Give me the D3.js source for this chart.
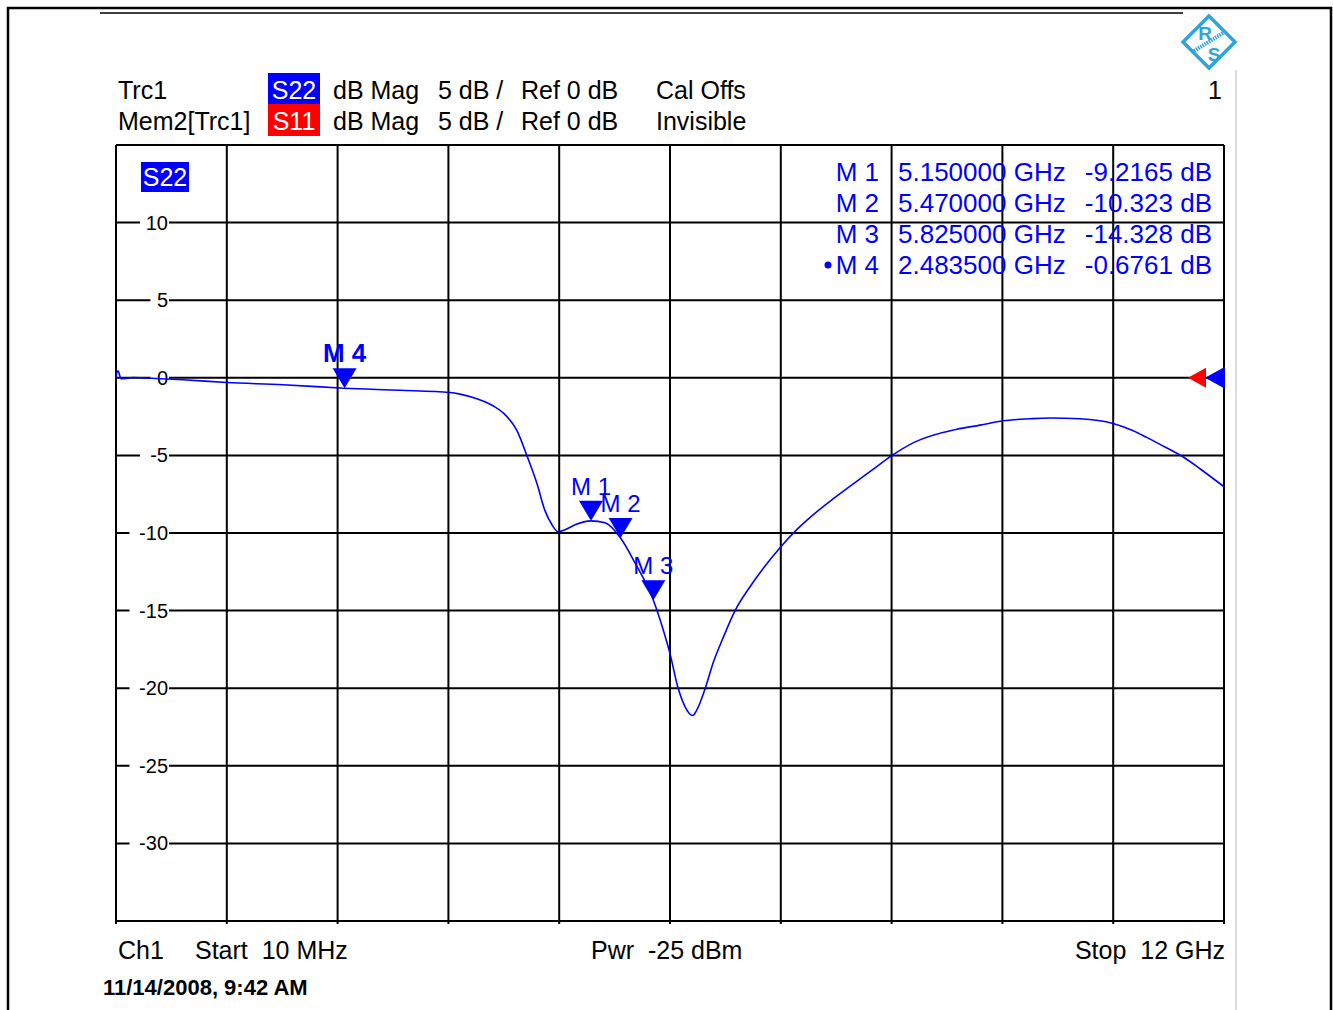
<!DOCTYPE html>
<html>
<head>
<meta charset="utf-8">
<script src="https://cdn.jsdelivr.net/npm/d3@7"></script>
<style>
  body { margin: 0; background: #fff; }
  svg text { font-family: "Liberation Sans", Arial, sans-serif; white-space: pre; }
</style>
</head>
<body>
<svg id="chart" width="1333" height="1010"></svg>
<script>
// S22 trace (frequency in GHz, magnitude in dB)
const freqGHz = [0.01, 0.032, 0.064, 0.194, 0.486, 0.735, 1.211, 1.817, 2.434, 2.4835, 3.083, 3.624, 3.732, 3.916,
    4.090, 4.198, 4.349, 4.457, 4.566, 4.652, 4.728, 4.793, 4.869, 4.977, 5.15, 5.302, 5.47, 5.626, 5.825,
    5.918, 6.005, 6.091, 6.167, 6.250, 6.297, 6.384, 6.474, 6.582, 6.709, 6.871, 7.015, 7.214, 7.339, 7.556,
    7.772, 7.988, 8.205, 8.404, 8.646, 9.110, 9.360, 9.609, 9.901, 10.117, 10.442, 10.799, 11.018, 11.163,
    11.308, 11.556, 11.740, 12.0];
const s22dB = [0.06, 0.45, -0.06, 0.02, -0.06, -0.13, -0.30, -0.45, -0.66, -0.676, -0.80, -0.95, -1.05, -1.35,
    -1.80, -2.25, -3.41, -5.02, -6.83, -8.56, -9.47, -9.92, -9.79, -9.47, -9.2165, -9.34, -10.323, -11.92, -14.328,
    -15.97, -17.77, -19.96, -21.18, -21.76, -21.38, -20.05, -18.33, -16.72, -15.00, -13.46, -12.27, -10.82, -10.01, -8.82,
    -7.79, -6.83, -5.89, -5.02, -4.16, -3.31, -3.05, -2.77, -2.64, -2.59, -2.64, -2.94, -3.41, -3.84,
    -4.29, -5.09, -5.86, -7.02];

// markers
const markerNames = ["M 1", "M 2", "M 3", "M 4"];
const markerFreq = [5.15, 5.47, 5.825, 2.4835];
const markerDb = [-9.2165, -10.323, -14.328, -0.6761];
const markerFreqText = ["5.150000 GHz", "5.470000 GHz", "5.825000 GHz", "2.483500 GHz"];
const markerDbText = ["-9.2165 dB", "-10.323 dB", "-14.328 dB", "-0.6761 dB"];

// axes
const yTicks = [10, 5, 0, -5, -10, -15, -20, -25, -30];
const yDomain = [-35, 15];
const xDomain = [0.01, 12];
const xDivisions = 10;

const svg = d3.select("#chart");
const blue = "#0000ff";
const red = "#ff0000";

const x = d3.scaleLinear().domain(xDomain).range([116, 1224]);
const y = d3.scaleLinear().domain(yDomain).range([921, 145]);

// page frame
svg.append("path")
    .attr("d", "M8,1012 V8 H1331 V1012")
    .attr("fill", "none").attr("stroke", "#000").attr("stroke-width", 2.5);
svg.append("line").attr("x1", 100).attr("x2", 1183).attr("y1", 13).attr("y2", 13)
    .attr("stroke", "#000").attr("stroke-width", 1.5);
svg.append("line").attr("x1", 1236).attr("x2", 1236).attr("y1", 70).attr("y2", 1010)
    .attr("stroke", "#bbb").attr("stroke-width", 1);

// R&S logo
const logo = svg.append("g").attr("transform", "translate(1209,42)");
logo.append("path").attr("d", "M0,-26 L26,0 L0,26 L-26,0 Z")
    .attr("fill", "none").attr("stroke", "#2ea3dd").attr("stroke-width", 3.5);
logo.append("text").attr("x", -4).attr("y", -2).attr("text-anchor", "middle")
    .attr("font-size", 19).attr("font-weight", "bold").attr("fill", "#2ea3dd").text("R");
logo.append("text").attr("x", 5).attr("y", 19).attr("text-anchor", "middle")
    .attr("font-size", 19).attr("font-weight", "bold").attr("fill", "#2ea3dd").text("S");
logo.append("line").attr("x1", -15).attr("y1", 9).attr("x2", 14).attr("y2", -9)
    .attr("stroke", "#2ea3dd").attr("stroke-width", 4).attr("stroke-dasharray", "1.5,1");

// header lines
const header = svg.append("g").attr("font-size", 25);
header.append("text").attr("x", 118).attr("y", 99).text("Trc1");
header.append("text").attr("x", 118).attr("y", 130).text("Mem2[Trc1]");
header.append("rect").attr("x", 268).attr("y", 73).attr("width", 52).attr("height", 31).attr("fill", blue);
header.append("rect").attr("x", 268).attr("y", 104).attr("width", 52).attr("height", 32).attr("fill", red);
header.append("text").attr("x", 294).attr("y", 99).attr("text-anchor", "middle").attr("fill", "#fff").text("S22");
header.append("text").attr("x", 294).attr("y", 130).attr("text-anchor", "middle").attr("fill", "#fff").text("S11");
[99, 130].forEach(by => {
    header.append("text").attr("x", 333).attr("y", by).text("dB Mag");
    header.append("text").attr("x", 438).attr("y", by).text("5 dB /");
    header.append("text").attr("x", 521).attr("y", by).text("Ref 0 dB");
});
header.append("text").attr("x", 656).attr("y", 99).text("Cal Offs");
header.append("text").attr("x", 656).attr("y", 130).text("Invisible");
header.append("text").attr("x", 1222).attr("y", 99).attr("text-anchor", "end").text("1");

// grid
const plot = svg.append("g");
const xGrid = d3.range(xDivisions + 1).map(i => xDomain[0] + i * (xDomain[1] - xDomain[0]) / xDivisions);
const yGrid = d3.range(yDomain[0], yDomain[1] + 1, 5);

plot.selectAll(".vgrid")
    .data(xGrid)
    .enter()
    .append("line")
    .attr("class", "vgrid")
    .attr("x1", d => x(d)).attr("x2", d => x(d))
    .attr("y1", y(yDomain[1])).attr("y2", y(yDomain[0]) + 3)
    .attr("stroke", "#000").attr("stroke-width", 2);

plot.selectAll(".hgrid")
    .data(yGrid)
    .enter()
    .append("line")
    .attr("class", "hgrid")
    .attr("x1", x(xDomain[0])).attr("x2", x(xDomain[1]))
    .attr("y1", d => y(d)).attr("y2", d => y(d))
    .attr("stroke", "#000").attr("stroke-width", 2);

// y tick labels with a white patch over the grid line
const tickG = plot.selectAll(".ytick")
    .data(yTicks)
    .enter()
    .append("g")
    .attr("class", "ytick")
    .attr("transform", d => `translate(168,${y(d)})`);
tickG.append("rect")
    .attr("x", d => -String(d).length * 10.5 - 7)
    .attr("y", -7)
    .attr("width", d => String(d).length * 10.5 + 8)
    .attr("height", 14)
    .attr("fill", "#fff");
tickG.append("text")
    .attr("text-anchor", "end")
    .attr("dy", "0.35em")
    .attr("font-size", 20)
    .text(d => d);

// trace label inside the plot
plot.append("rect").attr("x", 141).attr("y", 162).attr("width", 48).attr("height", 30).attr("fill", blue);
plot.append("text").attr("x", 165).attr("y", 186).attr("text-anchor", "middle")
    .attr("font-size", 25).attr("fill", "#fff").text("S22");

// marker readout table
const table = svg.append("g").attr("font-size", 26).attr("fill", blue);
markerNames.forEach((name, i) => {
    const by = 181 + i * 31;
    table.append("text").attr("x", 879).attr("y", by).attr("text-anchor", "end").text(name);
    table.append("text").attr("x", 898).attr("y", by).text(markerFreqText[i]);
    table.append("text").attr("x", 1212).attr("y", by).attr("text-anchor", "end").text(markerDbText[i]);
});
table.append("circle").attr("cx", 828).attr("cy", 265).attr("r", 3.5).attr("fill", blue);

// trace
const line = d3.line()
    .x((d, i) => x(freqGHz[i]))
    .y(d => y(d))
    .curve(d3.curveMonotoneX);
plot.append("path")
    .datum(s22dB)
    .attr("d", line)
    .attr("fill", "none")
    .attr("stroke", blue)
    .attr("stroke-width", 1.6);

// marker symbols
const mk = plot.selectAll(".marker")
    .data(markerNames)
    .enter()
    .append("g")
    .attr("class", "marker")
    .attr("transform", (d, i) => `translate(${x(markerFreq[i])},${y(markerDb[i])})`);
mk.append("path")
    .attr("d", "M0,0 L-12,-20 L12,-20 Z")
    .attr("fill", blue);
mk.append("text")
    .attr("y", -26)
    .attr("text-anchor", "middle")
    .attr("font-size", (d, i) => i === 3 ? 26 : 24)
    .attr("font-weight", (d, i) => i === 3 ? "bold" : "normal")
    .attr("fill", blue)
    .text(d => d);

// reference level arrows on the right edge
plot.append("line").attr("x1", 1195).attr("x2", 1210).attr("y1", y(0)).attr("y2", y(0))
    .attr("stroke", red).attr("stroke-width", 1.5).attr("stroke-dasharray", "2,2");
plot.append("path").attr("d", `M1188,${y(0)} L1206,${y(0) - 10} L1206,${y(0) + 10} Z`).attr("fill", red);
plot.append("path").attr("d", `M1205,${y(0)} L1225,${y(0) - 11} L1225,${y(0) + 11} Z`).attr("fill", blue);

// footer
const footer = svg.append("g").attr("font-size", 25);
footer.append("text").attr("x", 118).attr("y", 959).text("Ch1");
footer.append("text").attr("x", 195).attr("y", 959).text("Start  10 MHz");
footer.append("text").attr("x", 591).attr("y", 959).text("Pwr  -25 dBm");
footer.append("text").attr("x", 1225).attr("y", 959).attr("text-anchor", "end").text("Stop  12 GHz");
svg.append("text").attr("x", 103).attr("y", 995).attr("font-size", 22).attr("font-weight", "bold")
    .text("11/14/2008, 9:42 AM");
</script>
</body>
</html>
